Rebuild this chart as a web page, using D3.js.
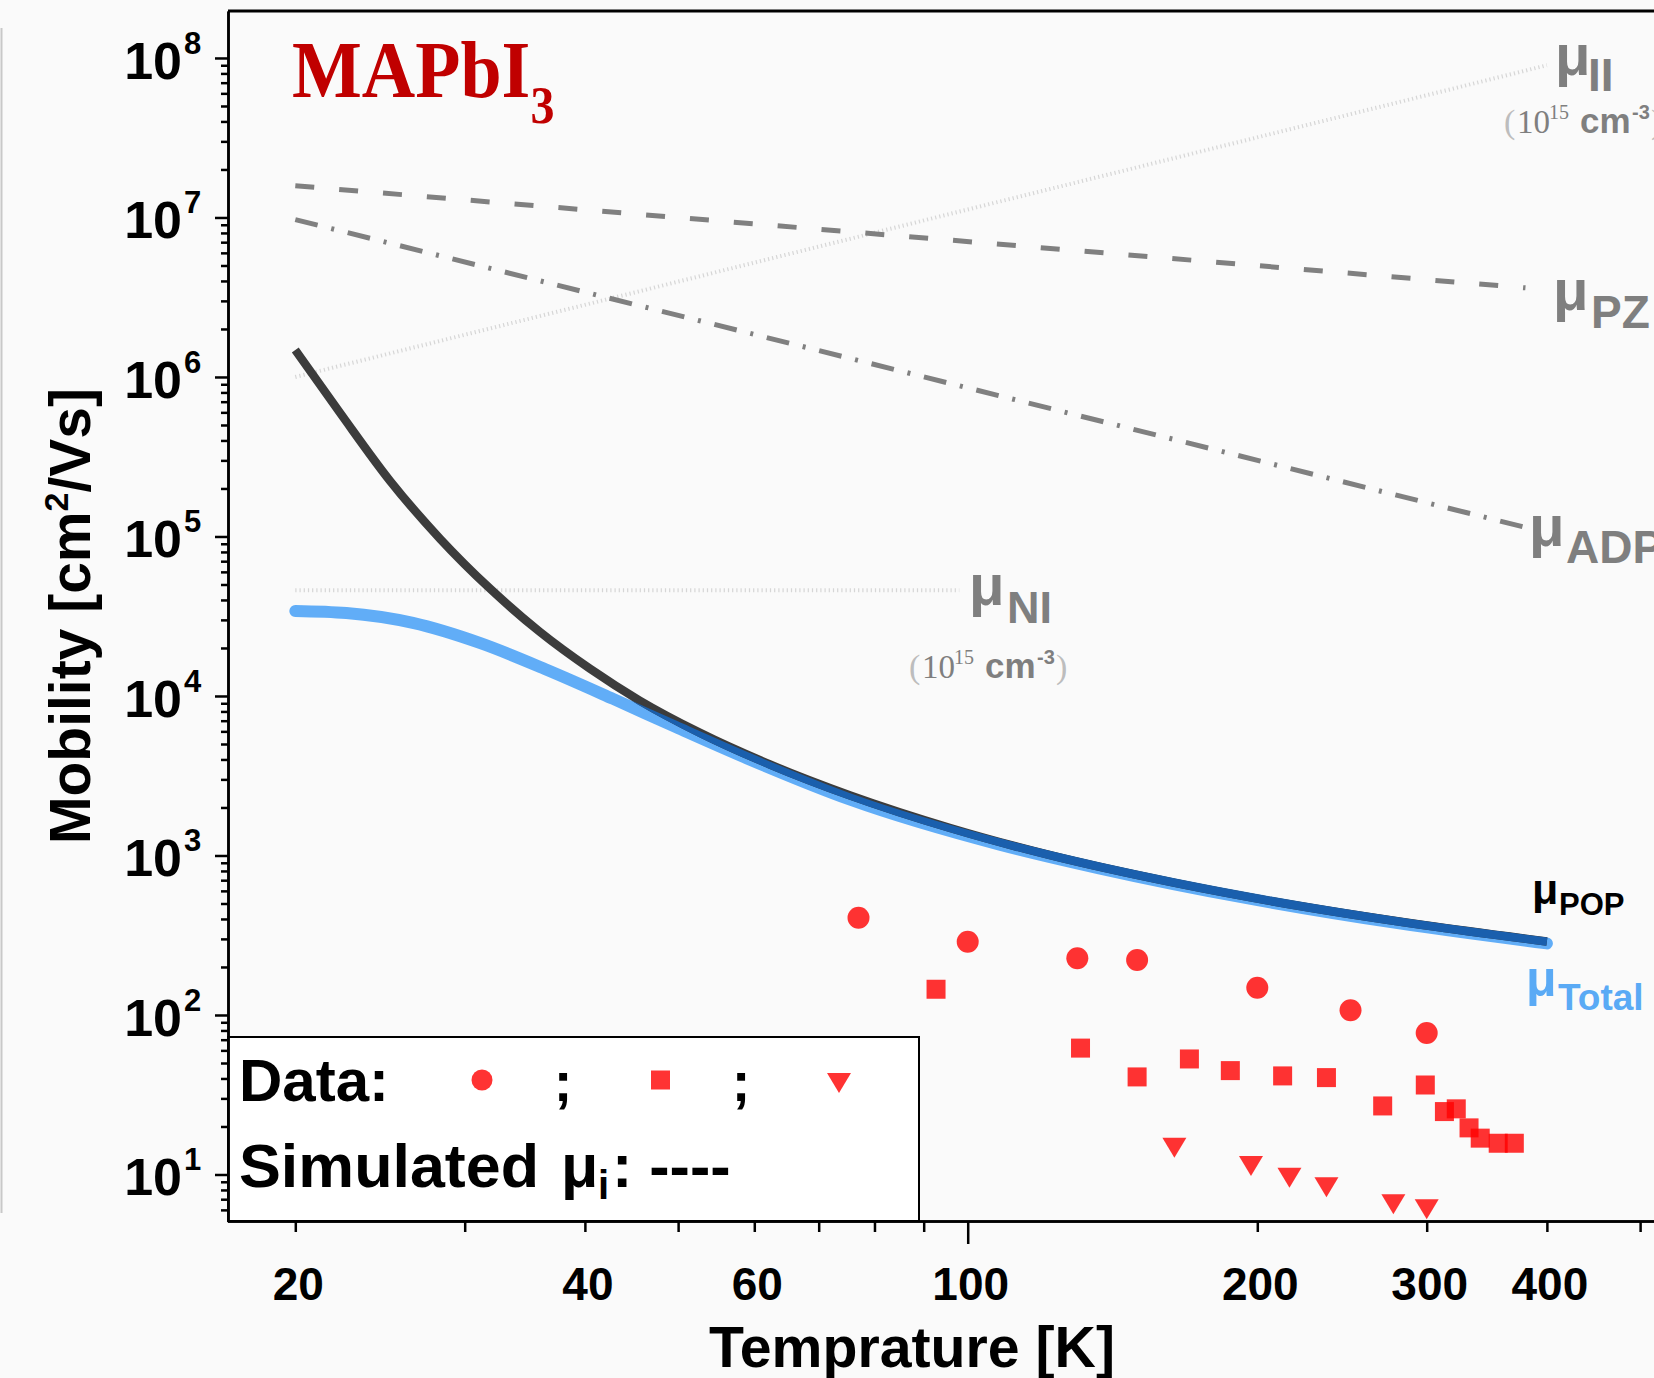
<!DOCTYPE html>
<html>
<head>
<meta charset="utf-8">
<title>MAPbI3 mobility</title>
<script src="https://d3js.org/d3.v7.min.js"></script>
<style>
  body { margin:0; background:#fafafa; }
  svg { display:block; }
  .axis path, .axis line { stroke:#000; stroke-width:2.5; }
  .sans { font-family:"Liberation Sans", Arial, sans-serif; font-weight:bold; }
  .serif { font-family:"Liberation Serif", "Times New Roman", serif; }
</style>
</head>
<body>
<script>
// ---- data (T in K, mobility in cm2/Vs) ----
var popT     = [20, 22.3, 25.1, 28.3, 31.9, 35.9, 40.5, 45.6, 52.7, 62.3, 75.5, 95.9, 121.8, 164.3, 221.5, 298.8, 400];
var popMu    = [1.476e6, 5.87e5, 2.225e5, 9.64e4, 4.69e4, 2.527e4, 1.481e4, 9.36e3, 5.87e3, 3.72e3, 2378, 1487, 1004, 673, 482, 365, 289];
var totalT   = [20, 22.6, 26.5, 31.1, 36.5, 42.8, 49.8, 59.4, 75.5, 108, 137, 197, 281, 400];
var totalMu  = [3.41e4, 3.31e4, 2.87e4, 2.15e4, 1.46e4, 9.59e3, 6.36e3, 3.99e3, 2.24e3, 1170, 831, 534, 375, 281];

var pzT  = [20, 380],  pzMu  = [1.58e7, 3.62e6];
var adpT = [20, 380],  adpMu = [9.7e6, 1.14e5];
var iiT  = [20, 400],  iiMu  = [1.0e6, 9.0e7];
var niT  = [20, 98],   niMu  = [4.6e4, 4.6e4];

var circT = [77, 100, 130, 150, 200, 250, 300];
var circMu = [407, 288, 227, 221, 148, 107, 77];
var sqT  = [92.7, 131, 150, 170, 187.5, 212.5, 236, 270, 299, 313, 322, 332, 341, 356, 370];
var sqMu = [145, 62, 40.9, 53, 44.8, 41.5, 40.5, 26.9, 36.4, 24.8, 25.8, 19.6, 16.9, 15.7, 15.7];
var triT  = [164, 197, 216, 236, 277, 300];
var triMu = [14.7, 11.3, 9.55, 8.31, 6.5, 6.05];

var yMajor = [1e1, 1e2, 1e3, 1e4, 1e5, 1e6, 1e7, 1e8];
var xMajor = [100];
var xMinor = [20, 30, 40, 50, 60, 70, 80, 90, 200, 300, 400, 500];
var xLabels = [20, 40, 60, 100, 200, 300, 400];

function zip(a, b){ return a.map(function(v, i){ return {T: v, mu: b[i]}; }); }

var W = 1654, H = 1378;
var svg = d3.select("body").append("svg").attr("width", W).attr("height", H);
svg.append("rect").attr("width", W).attr("height", H).attr("fill", "#fafafa");

var x = d3.scaleLog().domain([17, 520]).range([227.4, 1656.5]);
var y = d3.scaleLog().domain([5.11, 1.97e8]).range([1221, 11]);

var defs = svg.append("defs");
defs.append("clipPath").attr("id", "plotclip")
  .append("rect").attr("x", 228).attr("y", 11).attr("width", 1430).attr("height", 1210);

var line = d3.line().x(function(d){ return x(d.T); }).y(function(d){ return y(d.mu); });
var smooth = d3.line().x(function(d){ return x(d.T); }).y(function(d){ return y(d.mu); }).curve(d3.curveMonotoneX);

var plot = svg.append("g").attr("clip-path", "url(#plotclip)");

// faint dotted impurity lines
plot.append("path").attr("d", line(zip(niT, niMu)))
  .attr("fill", "none").attr("stroke", "#d6d6d6").attr("stroke-width", 4).attr("stroke-dasharray", "1.2,3");
plot.append("path").attr("d", line(zip(iiT, iiMu)))
  .attr("fill", "none").attr("stroke", "#d6d6d6").attr("stroke-width", 4).attr("stroke-dasharray", "1.2,3");

// PZ dashed, ADP dash-dot
plot.append("path").attr("d", line(zip(pzT, pzMu)))
  .attr("fill", "none").attr("stroke", "#808080").attr("stroke-width", 5).attr("stroke-dasharray", "19,25");
plot.append("path").attr("d", line(zip(adpT, adpMu)))
  .attr("fill", "none").attr("stroke", "#808080").attr("stroke-width", 5).attr("stroke-dasharray", "23,14,3,14");

// total and POP
var totalPath = smooth(zip(totalT, totalMu));
var popPath = smooth(zip(popT, popMu));
defs.append("mask").attr("id", "totmask").attr("maskUnits", "userSpaceOnUse")
  .attr("x", 0).attr("y", 0).attr("width", W).attr("height", H)
  .append("path").attr("d", totalPath).attr("fill", "none").attr("stroke", "#fff")
  .attr("stroke-width", 12).attr("stroke-linecap", "round");

plot.append("path").attr("d", totalPath).attr("fill", "none")
  .attr("stroke", "#61adf7").attr("stroke-width", 12).attr("stroke-linecap", "round");
plot.append("path").attr("d", popPath).attr("fill", "none")
  .attr("stroke", "#3c3c3c").attr("stroke-width", 8.5);
plot.append("path").attr("d", popPath).attr("fill", "none").attr("mask", "url(#totmask)")
  .attr("stroke", "#1a5fad").attr("stroke-width", 8.5);

// data markers
var red = "#ff0000";
plot.selectAll("circle.dat").data(zip(circT, circMu)).enter().append("circle")
  .attr("class", "dat").attr("cx", function(d){ return x(d.T); }).attr("cy", function(d){ return y(d.mu); })
  .attr("r", 11).attr("fill", red).attr("fill-opacity", 0.8);
plot.selectAll("rect.dat").data(zip(sqT, sqMu)).enter().append("rect")
  .attr("class", "dat").attr("x", function(d){ return x(d.T) - 9.5; }).attr("y", function(d){ return y(d.mu) - 9.5; })
  .attr("width", 19).attr("height", 19).attr("fill", red).attr("fill-opacity", 0.8);
var tri = "M-12,-10L12,-10L0,10Z";
plot.selectAll("path.dat").data(zip(triT, triMu)).enter().append("path")
  .attr("class", "dat").attr("d", tri)
  .attr("transform", function(d){ return "translate(" + x(d.T) + "," + y(d.mu) + ")"; })
  .attr("fill", red).attr("fill-opacity", 0.8);

// legend box
svg.append("rect").attr("x", 228).attr("y", 1037).attr("width", 691).attr("height", 184)
  .attr("fill", "#fff").attr("stroke", "#000").attr("stroke-width", 2);
svg.append("text").attr("class", "sans").attr("x", 239).attr("y", 1101).attr("font-size", 60)
  .attr("textLength", 150).attr("lengthAdjust", "spacingAndGlyphs").text("Data:");
svg.append("circle").attr("cx", 482).attr("cy", 1080).attr("r", 10.5).attr("fill", red).attr("fill-opacity", 0.8);
svg.append("rect").attr("x", 651).attr("y", 1070.5).attr("width", 19).attr("height", 19).attr("fill", red).attr("fill-opacity", 0.8);
svg.append("path").attr("d", tri).attr("transform", "translate(839,1083)").attr("fill", red).attr("fill-opacity", 0.8);
[563, 741].forEach(function(sx){
  svg.append("text").attr("class", "sans").attr("x", sx).attr("y", 1101).attr("font-size", 56)
    .attr("text-anchor", "middle").text(";");
});
svg.append("text").attr("class", "sans").attr("x", 239).attr("y", 1187).attr("font-size", 62)
  .attr("textLength", 300).attr("lengthAdjust", "spacingAndGlyphs").text("Simulated");
svg.append("text").attr("class", "sans").attr("x", 561).attr("y", 1187).attr("font-size", 61).text("μ");
svg.append("text").attr("class", "sans").attr("x", 598).attr("y", 1199).attr("font-size", 40).text("i");
svg.append("text").attr("class", "sans").attr("x", 612).attr("y", 1187).attr("font-size", 61).text(": ----");

// axes
svg.append("g").attr("class", "axis").attr("transform", "translate(228,0)")
  .call(d3.axisLeft(y).tickValues(yMajor).tickSize(13).tickSizeOuter(0).tickFormat(""));
var yMinor = [];
yMajor.concat([1]).forEach(function(v){ for (var k = 2; k <= 9; k++) yMinor.push(v * k); });
yMinor = yMinor.filter(function(v){ return v > 5.11 && v < 1.97e8; });
svg.append("g").attr("class", "axis").attr("transform", "translate(228,0)")
  .call(d3.axisLeft(y).tickValues(yMinor).tickSize(7).tickSizeOuter(0).tickFormat(""));

svg.append("g").attr("class", "axis").attr("transform", "translate(0,1221)")
  .call(d3.axisBottom(x).tickValues(xMajor).tickSize(23).tickSizeOuter(0).tickFormat(""));
svg.append("g").attr("class", "axis").attr("transform", "translate(0,1221)")
  .call(d3.axisBottom(x).tickValues(xMinor).tickSize(11).tickSizeOuter(0).tickFormat(""));
svg.append("line").attr("x1", 228).attr("x2", W).attr("y1", 11).attr("y2", 11)
  .attr("stroke", "#000").attr("stroke-width", 3);

// tick labels
yMajor.forEach(function(v){
  var yy = y(v);
  svg.append("text").attr("class", "sans").attr("x", 182).attr("y", yy + 21)
    .attr("font-size", 52).attr("text-anchor", "end").text("10");
  svg.append("text").attr("class", "sans").attr("x", 184).attr("y", yy - 4)
    .attr("font-size", 31).text(Math.round(Math.log10(v)));
});
xLabels.forEach(function(v){
  svg.append("text").attr("class", "sans").attr("x", x(v) + 3).attr("y", 1300)
    .attr("font-size", 46).attr("text-anchor", "middle").text(v);
});

// axis titles
var yt = svg.append("text").attr("class", "sans").attr("font-size", 57).attr("text-anchor", "middle")
  .attr("transform", "translate(90,616) rotate(-90)");
yt.append("tspan").text("Mobility [cm");
yt.append("tspan").attr("font-size", 34).attr("dy", -22).text("2");
yt.append("tspan").attr("dy", 22).text("/Vs]");
svg.append("text").attr("class", "sans").attr("x", 709).attr("y", 1367)
  .attr("font-size", 57).attr("textLength", 406).attr("lengthAdjust", "spacingAndGlyphs").text("Temprature [K]");

// title
var tt = svg.append("text").attr("class", "serif").attr("font-weight", "bold").attr("fill", "#c00000")
  .attr("font-size", 74).attr("transform", "translate(292,97) scale(1,1.1)");
tt.append("tspan").attr("x", 0).attr("y", 0).text("MAPbI");
tt.append("tspan").attr("font-size", 48).attr("dy", 24).text("3");

// curve labels
function muLabel(xm, ym, fm, sub, xs, ys, fs, col){
  svg.append("text").attr("class", "sans").attr("x", xm).attr("y", ym).attr("font-size", fm).attr("fill", col).text("μ");
  svg.append("text").attr("class", "sans").attr("x", xs).attr("y", ys).attr("font-size", fs).attr("fill", col).text(sub);
}
muLabel(1555, 75, 58, "II", 1588, 91, 46, "#7f7f7f");
muLabel(1553, 310, 58, "PZ", 1591, 328, 46, "#7f7f7f");
muLabel(1529, 546, 58, "ADP", 1566, 563, 46, "#7f7f7f");
muLabel(969, 605, 58, "NI", 1007, 623, 45, "#7f7f7f");
muLabel(1532, 904, 43, "POP", 1559, 915, 31, "#000");
muLabel(1526, 996, 50, "Total", 1558, 1010, 37, "#5aaaf5");

function densityNote(x0, base){
  svg.append("text").attr("class", "serif").attr("x", x0).attr("y", base).attr("font-size", 34).attr("fill", "#bdbdbd").text("(");
  svg.append("text").attr("class", "serif").attr("x", x0 + 13).attr("y", base).attr("font-size", 33).attr("fill", "#7f7f7f").text("10");
  svg.append("text").attr("class", "serif").attr("x", x0 + 45).attr("y", base - 14).attr("font-size", 20).attr("fill", "#7f7f7f").text("15");
  svg.append("text").attr("class", "sans").attr("x", x0 + 76).attr("y", base).attr("font-size", 35).attr("fill", "#7f7f7f").text("cm");
  svg.append("text").attr("class", "sans").attr("x", x0 + 128).attr("y", base - 14).attr("font-size", 20).attr("fill", "#7f7f7f").text("-3");
  svg.append("text").attr("class", "serif").attr("x", x0 + 147).attr("y", base).attr("font-size", 34).attr("fill", "#bdbdbd").text(")");
}
densityNote(1504, 133);
densityNote(909, 678);

// faint crop edge on the far left
svg.append("line").attr("x1", 1.5).attr("x2", 1.5).attr("y1", 28).attr("y2", 1213)
  .attr("stroke", "#c8c8c8").attr("stroke-width", 2);
</script>
</body>
</html>
